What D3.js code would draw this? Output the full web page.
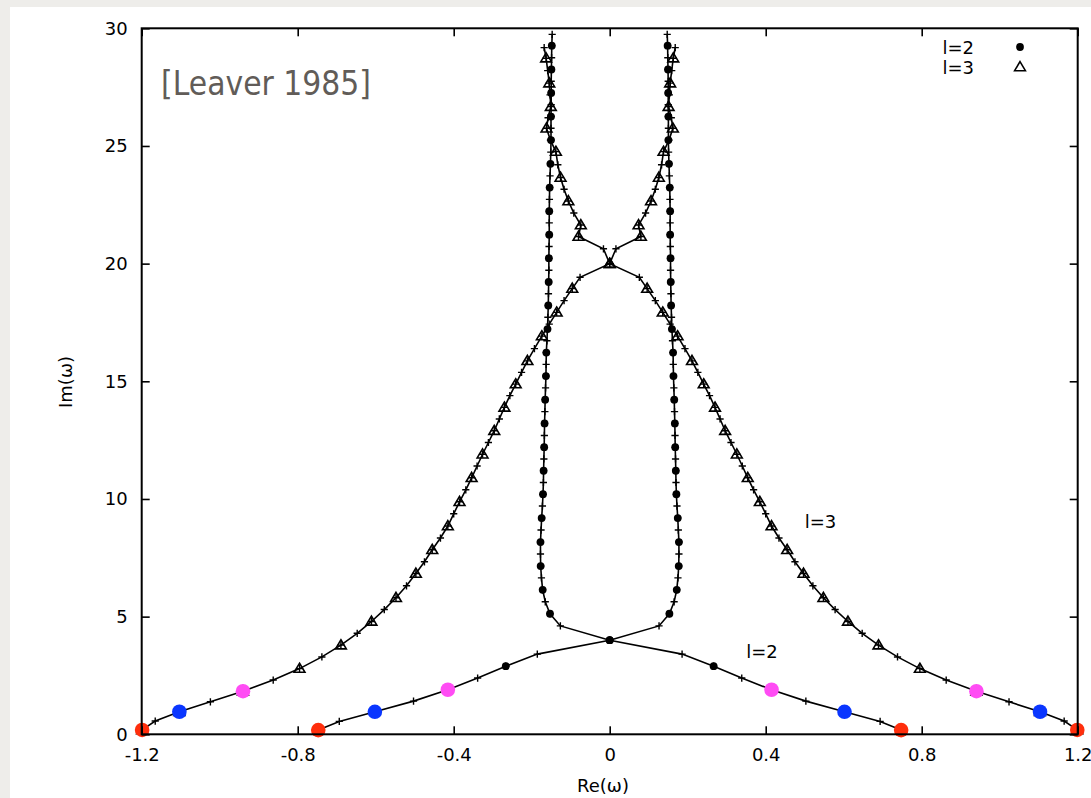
<!DOCTYPE html>
<html>
<head>
<meta charset="utf-8">
<script src="https://cdn.jsdelivr.net/npm/d3@7"></script>
<style>
  html, body { margin: 0; padding: 0; background: #eeedea; }
  svg { display: block; }
  text { font-family: "DejaVu Sans", sans-serif; }
</style>
</head>
<body>
<svg id="chart" width="1091" height="798"></svg>
<script>
// Schwarzschild QNM frequencies (2M = 1), branch as ordered by overtone n
const l2Re = [0.7473, 0.6934, 0.6021, 0.5030, 0.4150, 0.3386, 0.2665, 0.1856, 0.0000, -0.1265,
  -0.1531, -0.1652, -0.1719, -0.1750, -0.1770, -0.1775, -0.1775, -0.1760, -0.1745, -0.1725,
  -0.1710, -0.1700, -0.1695, -0.1688, -0.1680, -0.1675, -0.1670, -0.1662, -0.1655, -0.1645,
  -0.1635, -0.1630, -0.1625, -0.1610, -0.1595, -0.1585, -0.1575, -0.1570, -0.1565, -0.1560,
  -0.1560, -0.1555, -0.1550, -0.1550, -0.1550, -0.1545, -0.1540, -0.1530, -0.1520, -0.1510,
  -0.1505, -0.1505, -0.1505, -0.1500, -0.1500, -0.1500, -0.1495, -0.1490, -0.1485, -0.1475];
const l2Im = [0.1779, 0.5478, 0.9566, 1.4103, 1.8937, 2.3912, 2.8958, 3.4077, 3.9976, 4.6053,
  5.1217, 5.6309, 6.1371, 6.645, 7.15, 7.66, 8.17, 8.68, 9.19, 9.70,
  10.20, 10.70, 11.20, 11.70, 12.20, 12.70, 13.21, 13.71, 14.22, 14.72,
  15.22, 15.72, 16.22, 16.72, 17.22, 17.72, 18.22, 18.72, 19.22, 19.72,
  20.23, 20.73, 21.23, 21.73, 22.23, 22.73, 23.23, 23.73, 24.24, 24.74,
  25.25, 25.75, 26.25, 26.75, 27.25, 27.75, 28.25, 28.75, 29.26, 29.74];
const l2Marked = [0, 2, 4, 6, 8, 10, 12, 14, 16, 18, 20, 22, 24, 26, 28, 30, 32, 34, 36, 38,
  40, 42, 44, 46, 48, 50, 52, 54, 56, 58];

const l3Re = [1.1989, 1.1653, 1.1034, 1.0239, 0.9403, 0.8628, 0.7953, 0.7380, 0.6892, 0.6474,
  0.6109, 0.578, 0.548, 0.521, 0.497, 0.475, 0.455, 0.434, 0.415, 0.400,
  0.385, 0.369, 0.354, 0.340, 0.326, 0.311, 0.296, 0.283, 0.270, 0.256,
  0.241, 0.226, 0.211, 0.193, 0.174, 0.155, 0.136, 0.117, 0.096, 0.076,
  0.000, -0.016, -0.080, -0.074, -0.092, -0.106, -0.117, -0.126, -0.133, -0.138,
  -0.152, -0.162, -0.158, -0.151, -0.153, -0.155, -0.159, -0.163, -0.168];
const l3Im = [0.1854, 0.5626, 0.9582, 1.3807, 1.8313, 2.3043, 2.7918, 3.2877, 3.7881, 4.2908,
  4.7947, 5.30, 5.80, 6.31, 6.83, 7.33, 7.84, 8.34, 8.85, 9.37,
  9.88, 10.39, 10.90, 11.40, 11.90, 12.40, 12.90, 13.40, 13.89, 14.39,
  14.88, 15.38, 15.87, 16.39, 16.92, 17.43, 17.93, 18.43, 18.94, 19.42,
  20.00, 20.63, 21.15, 21.64, 22.15, 22.66, 23.16, 23.66, 24.20, 24.76,
  25.25, 25.75, 26.20, 26.67, 27.17, 27.67, 28.20, 28.73, 29.18];
const l3Marked = [0, 2, 4, 6, 8, 10, 12, 14, 16, 18, 20, 22, 24, 26, 28, 30, 32, 34, 36, 38,
  40, 42, 43, 45, 47, 49, 51, 53, 55, 57];

// coloured overtones n = 0, 2, 4
const highlightN = [0, 2, 4];
const highlightColors = ["#ff2e0c", "#0a36ff", "#ff4cf4"];

const xTicks = [-1.2, -0.8, -0.4, 0, 0.4, 0.8, 1.2];
const xTickLabels = ["-1.2", "-0.8", "-0.4", "0", "0.4", "0.8", "1.2"];
const yTicks = [0, 5, 10, 15, 20, 25, 30];

const svg = d3.select("#chart");

// slide panel
svg.append("rect").attr("x", 10).attr("y", 7).attr("width", 1081).attr("height", 791).attr("fill", "#fff");

const x = d3.scaleLinear().domain([-1.2, 1.2]).range([141.7, 1077.7]);
const y = d3.scaleLinear().domain([0, 30]).range([734.3, 28.3]);

function toPoints(re, im) {
    return re.map(function(r, i) { return {re: r, im: im[i], n: i}; });
}
const series = [
    {name: "l=2", pts: toPoints(l2Re, l2Im), marked: l2Marked, sym: "circle"},
    {name: "l=3", pts: toPoints(l3Re, l3Im), marked: l3Marked, sym: "triangle"}
];
const signs = [1, -1];

const plot = svg.append("g");

// lines
series.forEach(function(s) {
    signs.forEach(function(sg) {
        let line = d3.line()
            .x(function(d) { return x(sg * d.re); })
            .y(function(d) { return y(d.im); });
        plot.append("path")
            .attr("d", line(s.pts))
            .attr("fill", "none")
            .attr("stroke", "#000")
            .attr("stroke-width", 1.6);
    });
});

// '+' at every overtone
series.forEach(function(s) {
    signs.forEach(function(sg) {
        plot.append("g").selectAll("path")
            .data(s.pts)
            .join("path")
            .attr("d", "M-3.6,0H3.6M0,-3.6V3.6")
            .attr("transform", function(d) { return "translate(" + x(sg * d.re) + "," + y(d.im) + ")"; })
            .attr("stroke", "#000")
            .attr("stroke-width", 1.4);
    });
});

function drawMarker(g, sym, px, py) {
    if (sym == "circle") {
        g.append("circle").attr("cx", px).attr("cy", py).attr("r", 3.9).attr("fill", "#000");
    } else {
        g.append("path")
            .attr("d", "M0,-5.4L5.4,3.7L-5.4,3.7Z")
            .attr("transform", "translate(" + px + "," + py + ")")
            .attr("fill", "none")
            .attr("stroke", "#000")
            .attr("stroke-width", 1.6);
    }
}

// Leaver's tabulated modes
series.forEach(function(s) {
    signs.forEach(function(sg) {
        let g = plot.append("g");
        s.marked.forEach(function(n) {
            let d = s.pts[n];
            drawMarker(g, s.sym, x(sg * d.re), y(d.im));
        });
    });
});

// coloured dots
series.forEach(function(s) {
    signs.forEach(function(sg) {
        highlightN.forEach(function(n, k) {
            let d = s.pts[n];
            plot.append("circle")
                .attr("cx", x(sg * d.re)).attr("cy", y(d.im)).attr("r", 7.3)
                .attr("fill", highlightColors[k]);
        });
    });
});

// axes with inward ticks, mirrored on top and right
const axisFont = 18;
svg.append("g").attr("transform", "translate(0," + y(0) + ")")
    .call(d3.axisBottom(x).tickValues(xTicks).tickSize(-8).tickPadding(14)
        .tickFormat(function(d, i) { return xTickLabels[i]; }));
svg.append("g").attr("transform", "translate(0," + y(30) + ")")
    .call(d3.axisTop(x).tickValues(xTicks).tickSize(-8).tickFormat(""));
svg.append("g").attr("transform", "translate(" + x(-1.2) + ",0)")
    .call(d3.axisLeft(y).tickValues(yTicks).tickSize(-8).tickPadding(14));
svg.append("g").attr("transform", "translate(" + x(1.2) + ",0)")
    .call(d3.axisRight(y).tickValues(yTicks).tickSize(-8).tickFormat(""));

svg.selectAll(".domain").remove();
svg.selectAll(".tick line").attr("stroke", "#000").attr("stroke-width", 1.6);
svg.selectAll(".tick text").attr("font-size", axisFont).attr("font-family", "DejaVu Sans").attr("fill", "#000");

// border
svg.append("rect")
    .attr("x", x(-1.2)).attr("y", y(30))
    .attr("width", x(1.2) - x(-1.2)).attr("height", y(0) - y(30))
    .attr("fill", "none").attr("stroke", "#000").attr("stroke-width", 2);

// axis titles
svg.append("text").attr("x", 603).attr("y", 792).attr("text-anchor", "middle")
    .attr("font-size", axisFont).text("Re(ω)");
svg.append("text").attr("transform", "translate(72,382) rotate(-90)").attr("text-anchor", "middle")
    .attr("font-size", axisFont).text("Im(ω)");

// curve labels
svg.append("text").attr("x", x(0.5)).attr("y", 528).attr("font-size", axisFont).text("l=3");
svg.append("text").attr("x", x(0.35)).attr("y", 658).attr("font-size", axisFont).text("l=2");

// legend
const legend = svg.append("g");
series.forEach(function(s, i) {
    let ly = 47 + i * 20;
    legend.append("text").attr("x", 974).attr("y", ly + 6.5).attr("text-anchor", "end")
        .attr("font-size", axisFont).text(s.name);
    drawMarker(legend, s.sym, 1020, ly);
});

// citation
svg.append("text").attr("x", 161).attr("y", 95)
    .attr("font-family", "Lato, sans-serif").attr("font-size", 34)
    .attr("textLength", 210).attr("lengthAdjust", "spacingAndGlyphs")
    .attr("fill", "#615c58").text("[Leaver 1985]");
</script>
</body>
</html>
